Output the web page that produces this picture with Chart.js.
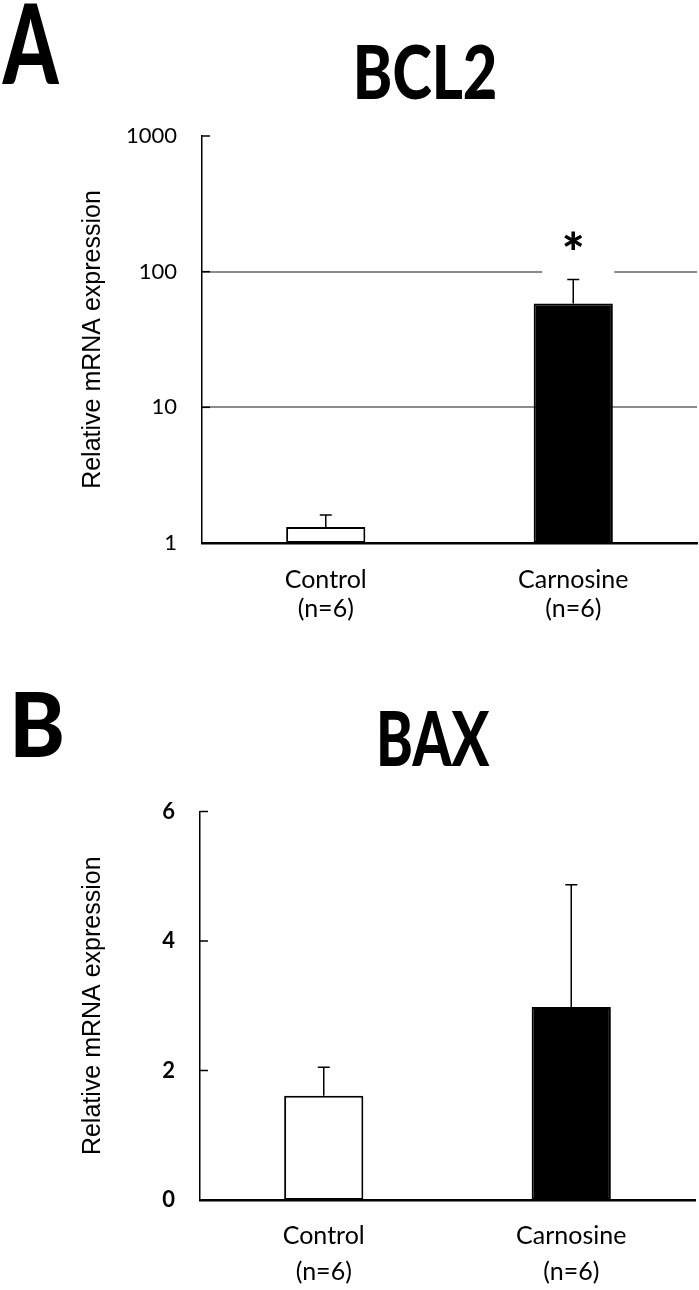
<!DOCTYPE html>
<html><head><meta charset="utf-8">
<script src="https://cdn.jsdelivr.net/npm/chart.js@4.4.0/dist/chart.umd.min.js"></script>
<style>
html,body{margin:0;padding:0;background:#fff;}
#wrap{position:relative;width:699px;height:1290px;overflow:hidden;background:#fff;}
canvas{position:absolute;left:0;}
#labels{position:absolute;left:0;top:0;width:699px;height:1290px;pointer-events:none;}
</style></head>
<body>
<div id="wrap">
<canvas id="cA" width="699" height="645" style="top:0;width:699px;height:645px;"></canvas>
<canvas id="cB" width="699" height="645" style="top:645px;width:699px;height:645px;"></canvas>
<svg id="labels" xmlns="http://www.w3.org/2000/svg" width="699" height="1290"></svg>
</div>
<script>
// ---- data ----
const categories = [['Control', '(n=6)'], ['Carnosine', '(n=6)']];
const bcl2Mean = [1.31, 58.2];
const bcl2Sd = [0.30, 29.3];
const bcl2Sig = ['', '*'];
const bcl2Ticks = [1, 10, 100, 1000];
const bcl2GridValues = [10, 100];
const baxMean = [1.61, 2.98];
const baxSd = [0.44, 1.89];
const baxSig = ['', ''];
const baxTicks = [0, 2, 4, 6];
const panelLetters = ['A', 'B'];
const panelTitles = ['BCL2', 'BAX'];
const yTitle = 'Relative mRNA expression';
const barFill = ['#ffffff', '#000000'];

const BASE = 'Lato, "Open Sans", sans-serif';

const deco = {
  id: 'deco',
  afterDatasetsDraw(chart, args, opts) {
    const ctx = chart.ctx;
    const xs = chart.scales.x, ys = chart.scales.y;
    const meta = chart.getDatasetMeta(0);
    const data = chart.data.datasets[0].data;
    ctx.save();
    ctx.strokeStyle = '#000';
    ctx.lineWidth = 1.5;
    // inward tick marks
    ys.ticks.forEach(t => {
      const py = ys.getPixelForValue(t.value);
      if (Math.abs(py - ys.bottom) < 2) return;
      ctx.beginPath(); ctx.moveTo(xs.left, py); ctx.lineTo(xs.left + 8, py); ctx.stroke();
    });
    data.forEach((v, i) => {
      const px = meta.data[i].x;
      const base = ys.getPixelForValue(v);
      const top = ys.getPixelForValue(v + opts.err[i]);
      ctx.beginPath();
      ctx.moveTo(px, base); ctx.lineTo(px, top);
      ctx.moveTo(px - 6, top); ctx.lineTo(px + 6, top);
      ctx.stroke();
      if (opts.sig && opts.sig[i]) {
        ctx.fillStyle = '#fff';
        ctx.fillRect(px - 31, top - 55, 72, 48.5);
        ctx.fillStyle = '#000';
        ctx.font = '900 54px ' + BASE;
        ctx.textAlign = 'center';
        ctx.textBaseline = 'middle';
        ctx.fillText(opts.sig[i], px, top - 25);
      }
    });
    ctx.restore();
  }
};

function makeChart(id, cfg) {
  return new Chart(document.getElementById(id), {
    type: 'bar',
    data: {
      labels: categories,
      datasets: [{
        data: cfg.mean,
        backgroundColor: barFill,
        borderColor: '#000',
        borderWidth: 2,
        borderSkipped: false,
        barPercentage: 0.32,
        categoryPercentage: 1.0
      }]
    },
    options: {
      responsive: false,
      devicePixelRatio: 1,
      animation: false,
      events: [],
      layout: { padding: { top: cfg.top, right: cfg.right, left: 0, bottom: 0 } },
      plugins: {
        legend: { display: false },
        tooltip: { enabled: false },
        deco: { err: cfg.sd, sig: cfg.sig }
      },
      scales: {
        x: {
          grid: { display: false, drawTicks: false },
          border: { display: true, color: '#000', width: 2.5 },
          ticks: {
            color: '#000',
            padding: cfg.xPad,
            font: { family: BASE, size: 25, lineHeight: cfg.xLine },
            maxRotation: 0, autoSkip: false
          },
          afterFit: s => { s.height = cfg.xHeight; }
        },
        y: cfg.y
      }
    },
    plugins: [deco]
  });
}

// Panel A: BCL2 (log scale)
makeChart('cA', {
  mean: bcl2Mean, sd: bcl2Sd, sig: bcl2Sig,
  top: 136, right: 2, xPad: 22, xLine: 1.16, xHeight: 102,
  y: {
    type: 'logarithmic', min: 1, max: 1000,
    afterBuildTicks: s => { s.ticks = bcl2Ticks.map(v => ({ value: v })); },
    afterFit: s => { s.width = 202; },
    grid: {
      drawTicks: false, lineWidth: 2,
      color: c => (c.tick && bcl2GridValues.includes(c.tick.value)) ? '#8c8c8c' : 'rgba(0,0,0,0)'
    },
    border: { display: true, color: '#000', width: 1.5 },
    ticks: { color: '#000', padding: 25, font: { family: BASE, size: 22 }, callback: v => String(v) },
    title: { display: true, text: yTitle, color: '#000', font: { family: '"Liberation Sans", Arial, sans-serif', size: 25 }, padding: { top: 78, bottom: 0 } }
  }
});

// Panel B: BAX (linear)
makeChart('cB', {
  mean: baxMean, sd: baxSd, sig: baxSig,
  top: 166.5, right: 4, xPad: 18, xLine: 1.44, xHeight: 90,
  y: {
    type: 'linear', min: 0, max: 6,
    afterBuildTicks: s => { s.ticks = baxTicks.map(v => ({ value: v })); },
    afterFit: s => { s.width = 200; },
    grid: { display: false, drawTicks: false },
    border: { display: true, color: '#000', width: 1.5 },
    ticks: { color: '#000', padding: 25, font: { family: BASE, size: 22, weight: 'bold' }, callback: v => String(v) },
    title: { display: true, text: yTitle, color: '#000', font: { family: '"Liberation Sans", Arial, sans-serif', size: 25 }, padding: { top: 78, bottom: 0 } }
  }
});

// Panel letters and titles as SVG text, fitted to target ink boxes
function placeText(text, box) {
  const svg = document.getElementById('labels');
  const size = 100;
  const c = document.createElement('canvas').getContext('2d');
  c.font = '900 ' + size + 'px ' + BASE;
  const m = c.measureText(text);
  const inkW = m.actualBoundingBoxLeft + m.actualBoundingBoxRight;
  const inkH = m.actualBoundingBoxAscent + m.actualBoundingBoxDescent;
  const sx = (box[2] - box[0]) / inkW, sy = (box[3] - box[1]) / inkH;
  const x = box[0] + m.actualBoundingBoxLeft * sx;
  const y = box[3] - m.actualBoundingBoxDescent * sy;
  const t = document.createElementNS('http://www.w3.org/2000/svg', 'text');
  t.setAttribute('x', 0); t.setAttribute('y', 0);
  t.setAttribute('font-family', 'Lato, Open Sans, sans-serif');
  t.setAttribute('font-weight', '900');
  t.setAttribute('font-size', size);
  t.setAttribute('fill', '#000');
  t.setAttribute('transform', `translate(${x} ${y}) scale(${sx} ${sy})`);
  t.textContent = text;
  svg.appendChild(t);
}
placeText(panelLetters[0], [2, 5, 60, 84]);
placeText(panelTitles[0], [357, 45, 495, 100]);
placeText(panelLetters[1], [15, 692, 62, 757]);
placeText(panelTitles[1], [380, 711, 490, 766]);
</script>
</body></html>
